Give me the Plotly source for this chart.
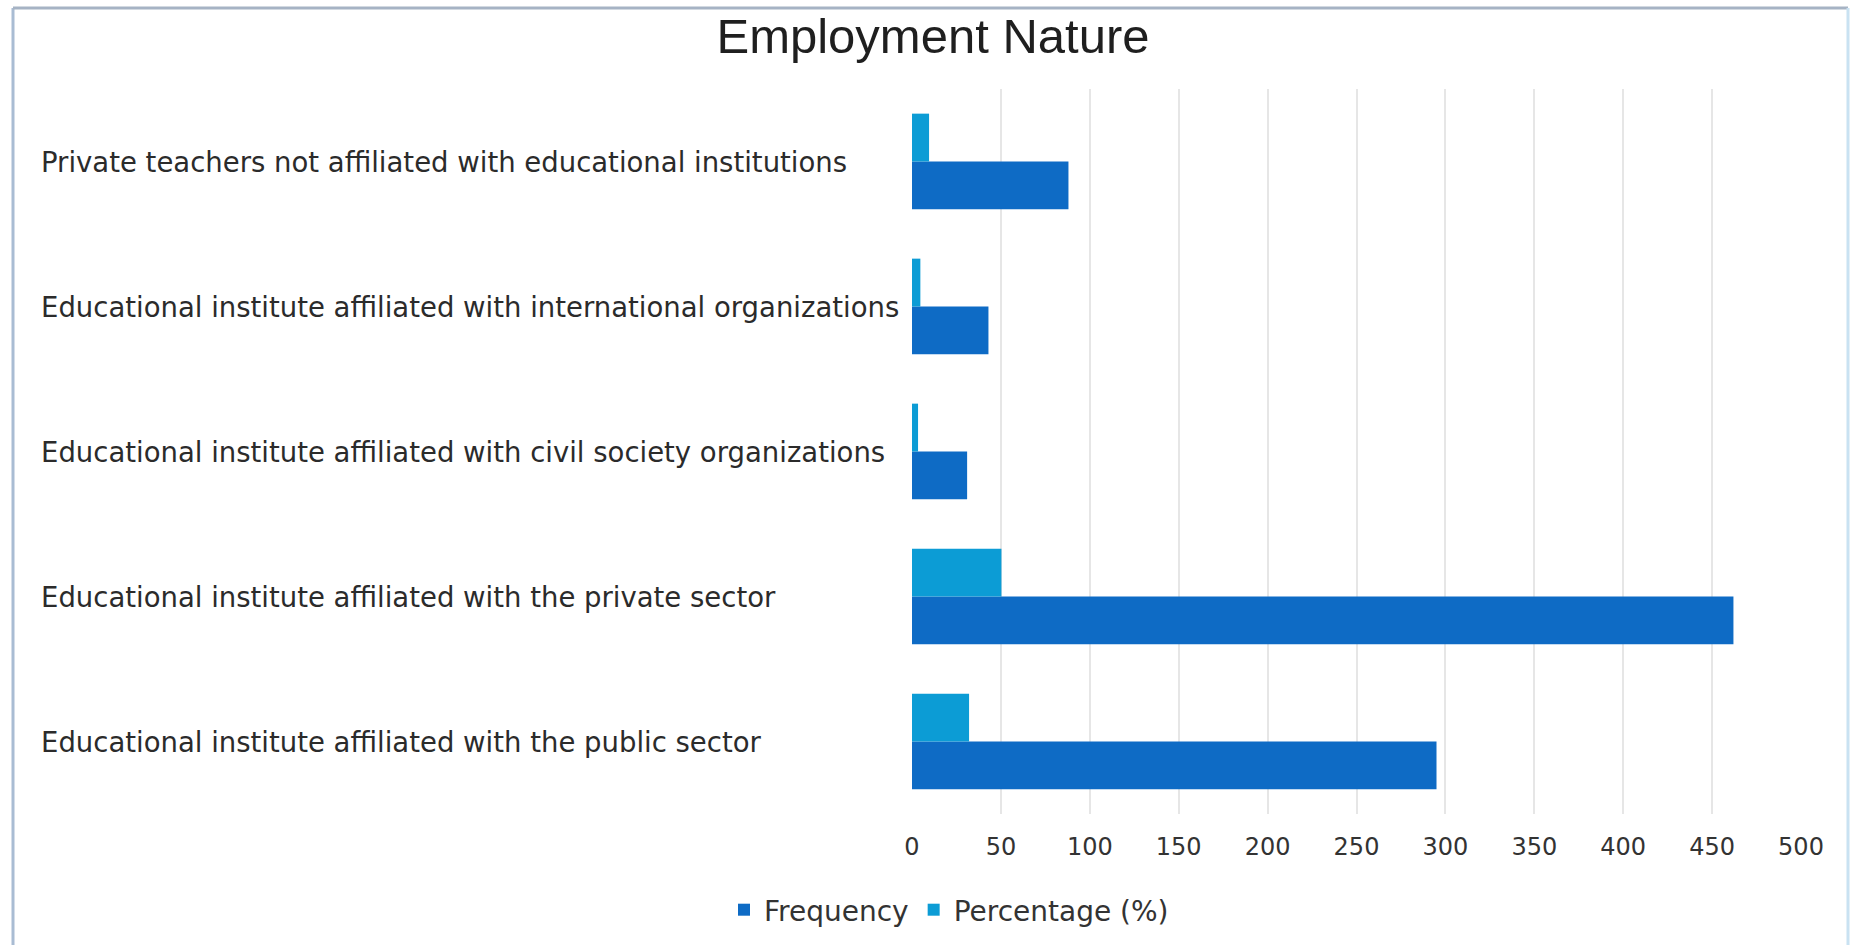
import plotly.graph_objects as go

# Employment nature categories, bottom to top as drawn on the y axis
categories = [
    "Educational institute affiliated with the public sector",
    "Educational institute affiliated with the private sector",
    "Educational institute affiliated with civil society organizations",
    "Educational institute affiliated with international organizations",
    "Private teachers not affiliated with educational institutions",
]
frequency = [295, 462, 31, 43, 88]
percentage = [32.1, 50.3, 3.4, 4.7, 9.6]
x_ticks = [0, 50, 100, 150, 200, 250, 300, 350, 400, 450, 500]

W, H = 1852, 945
L, R, T, B = 912, 51, 89, 131
plot_w = W - L - R
plot_h = H - T - B

FREQ_COLOR = "#0E6BC5"
PCT_COLOR = "#0C9CD5"
TITLE_FONT = "Liberation Sans, Arial, sans-serif"
TEXT_FONT = "DejaVu Sans, Verdana, sans-serif"

fig = go.Figure()
fig.add_trace(go.Bar(
    y=categories, x=frequency, orientation="h", name="Frequency",
    marker=dict(color=FREQ_COLOR, line=dict(width=0)),
))
fig.add_trace(go.Bar(
    y=categories, x=percentage, orientation="h", name="Percentage (%)",
    marker=dict(color=PCT_COLOR, line=dict(width=0)),
))

# left-aligned category labels
for cat in categories:
    fig.add_annotation(
        x=(39 - L) / plot_w, xref="paper", xanchor="left",
        y=cat, yref="y", yanchor="middle",
        text=cat, showarrow=False,
        font=dict(family=TEXT_FONT, size=27.5, color="#2b2b2b"),
    )

# chart frame
frame = dict(xref="paper", yref="paper", type="line")
x_left = (13 - L) / plot_w
x_right = (1848 - L) / plot_w
y_top = 1 + (T - 8) / plot_h
y_bottom = -B / plot_h
fig.add_shape(**frame, x0=x_left, x1=x_left, y0=y_bottom, y1=y_top,
              line=dict(color="#a9bcd3", width=3))
fig.add_shape(**frame, x0=x_left, x1=x_right, y0=y_top, y1=y_top,
              line=dict(color="#a6b3c4", width=3))
fig.add_shape(**frame, x0=x_right, x1=x_right, y0=y_bottom, y1=y_top,
              line=dict(color="#c9e2f2", width=3))

fig.update_layout(
    width=W, height=H,
    margin=dict(l=L, r=R, t=T, b=B, autoexpand=False),
    paper_bgcolor="white", plot_bgcolor="white",
    barmode="group", bargap=0.34, bargroupgap=0,
    title=dict(
        text="Employment Nature", x=933 / W, xref="container", xanchor="center",
        y=1 - 36 / H, yref="container", yanchor="middle",
        font=dict(family=TITLE_FONT, size=49, color="#1f1f1f"),
    ),
    xaxis=dict(
        range=[0, 500], tickvals=x_ticks, showgrid=True,
        gridcolor="#e6e6e6", gridwidth=2, zeroline=False, showline=False,
        ticks="", tickfont=dict(family=TEXT_FONT, size=24, color="#333333"),
        ticklabelstandoff=16,
    ),
    yaxis=dict(
        type="category", categoryorder="array", categoryarray=categories,
        showticklabels=False, showgrid=False, zeroline=False, showline=False,
    ),
    legend=dict(
        orientation="h", x=(949 - L) / plot_w, xanchor="center",
        y=-(910 - (H - B)) / plot_h, yanchor="middle",
        font=dict(family=TEXT_FONT, size=28, color="#333333"),
        itemwidth=30, tracegroupgap=0,
    ),
    showlegend=True,
)

fig.write_html("out.html")
